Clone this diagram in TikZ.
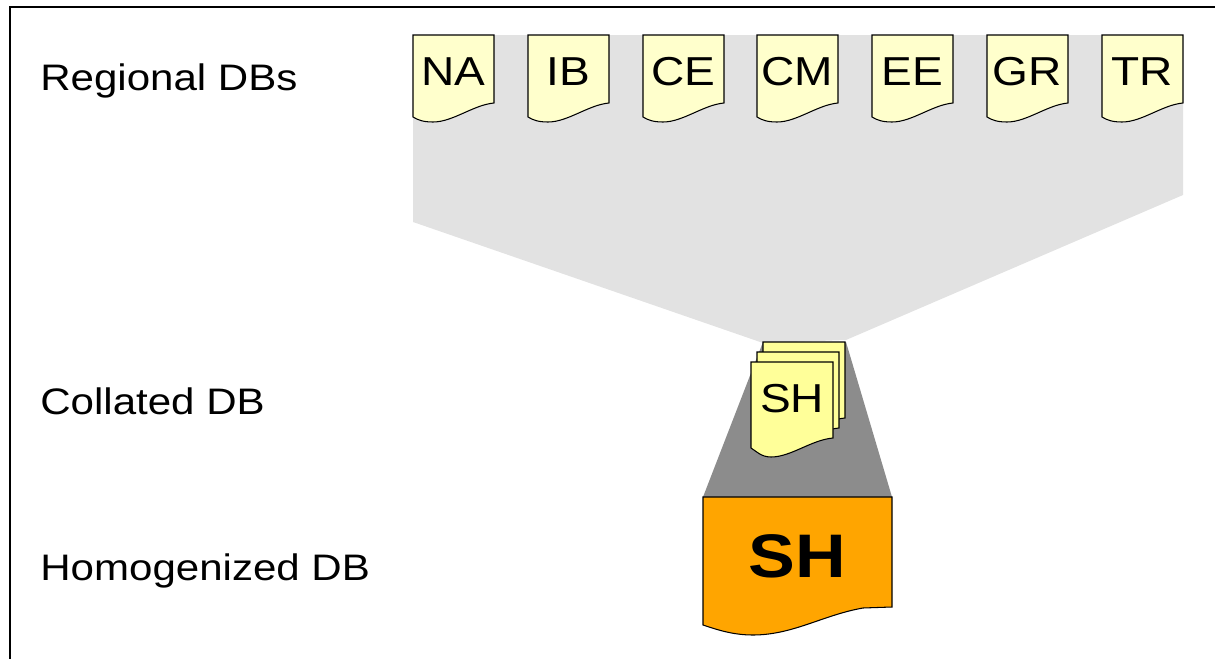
\documentclass[tikz,border=0pt]{standalone}
\usepackage{fontspec}
\usepackage{xcolor}
\usepackage{tikz}
\setmainfont[FakeStretch=1.14]{Liberation Sans}
\definecolor{regfill}{RGB}{255,255,204}
\definecolor{colfill}{RGB}{255,255,153}
\definecolor{homfill}{RGB}{255,165,0}
\definecolor{fanlight}{RGB}{226,226,226}
\definecolor{fandark}{RGB}{140,140,140}

\begin{document}
\begin{tikzpicture}[x=0.02cm,y=-0.02cm,
	every node/.style={inner sep=0pt,font=\fontsize{21pt}{25pt}\selectfont},
	regdoc/.style={fill=regfill,draw=black,line width=0.6pt},
	coldoc/.style={fill=colfill,draw=black,line width=0.6pt},
	homdoc/.style={fill=homfill,draw=black,line width=0.6pt},
	doclbl/.style={font=\fontsize{23pt}{27pt}\selectfont},
	rowlbl/.style={anchor=base west}]
					\useasboundingbox (0,0) rectangle (1215,659);
					\coordinate (d1) at (413,35);
					\coordinate (d2) at (528,35);
					\coordinate (d3) at (643,35);
					\coordinate (d4) at (757,35);
					\coordinate (d5) at (872,35);
					\coordinate (d6) at (987,35);
					\coordinate (d7) at (1102,35);
					\coordinate (c1) at (763,342);
					\coordinate (c2) at (757,352);
					\coordinate (c3) at (751,362);
					\coordinate (h1) at (703,497);

					\draw[line width=1.1pt] (10,659) -- (10,7) -- (1215,7);

					% funnels
					\fill[fanlight] (413,35) -- (1183,35) -- (1183,195) -- (846,340) -- (763,343) -- (413,222) -- cycle;
					\fill[fandark] (763,342) -- (846,342) -- (892,497) -- (703,497) -- cycle;

					% regional DBs
					\draw[regdoc,shift={(d1)}] (0,0) -- (81,0) -- (81,68) .. controls (60,70) and (40,87) .. (20,87) .. controls (10,87) and (5,85) .. (0,82) -- cycle;
					\draw[regdoc,shift={(d2)}] (0,0) -- (81,0) -- (81,68) .. controls (60,70) and (40,87) .. (20,87) .. controls (10,87) and (5,85) .. (0,82) -- cycle;
					\draw[regdoc,shift={(d3)}] (0,0) -- (81,0) -- (81,68) .. controls (60,70) and (40,87) .. (20,87) .. controls (10,87) and (5,85) .. (0,82) -- cycle;
					\draw[regdoc,shift={(d4)}] (0,0) -- (81,0) -- (81,68) .. controls (60,70) and (40,87) .. (20,87) .. controls (10,87) and (5,85) .. (0,82) -- cycle;
					\draw[regdoc,shift={(d5)}] (0,0) -- (81,0) -- (81,68) .. controls (60,70) and (40,87) .. (20,87) .. controls (10,87) and (5,85) .. (0,82) -- cycle;
					\draw[regdoc,shift={(d6)}] (0,0) -- (81,0) -- (81,68) .. controls (60,70) and (40,87) .. (20,87) .. controls (10,87) and (5,85) .. (0,82) -- cycle;
					\draw[regdoc,shift={(d7)}] (0,0) -- (81,0) -- (81,68) .. controls (60,70) and (40,87) .. (20,87) .. controls (10,87) and (5,85) .. (0,82) -- cycle;

					% collated stack
					\draw[coldoc,shift={(c1)}] (0,0) -- (82,0) -- (82,76) .. controls (60,78) and (40,95) .. (20,95) .. controls (10,95) and (5,89) .. (0,86) -- cycle;
					\draw[coldoc,shift={(c2)}] (0,0) -- (82,0) -- (82,76) .. controls (60,78) and (40,95) .. (20,95) .. controls (10,95) and (5,89) .. (0,86) -- cycle;
					\draw[coldoc,shift={(c3)}] (0,0) -- (82,0) -- (82,76) .. controls (60,78) and (40,95) .. (20,95) .. controls (10,95) and (5,89) .. (0,86) -- cycle;

					% homogenized
					\draw[homdoc,shift={(h1)}] (0,0) -- (189,0) -- (189,110) -- (160,111) .. controls (120,118) and (90,138) .. (50,138) .. controls (30,138) and (15,133) .. (0,128) -- cycle;

					\node[doclbl] (na) at (453.5,72) {NA};
					\node[doclbl] (ib) at (568.5,72) {IB};
					\node[doclbl] (ce) at (683.5,72) {CE};
					\node[doclbl] (cm) at (797.5,72) {CM};
					\node[doclbl] (ee) at (912.5,72) {EE};
					\node[doclbl] (gr) at (1027.5,72) {GR};
					\node[doclbl] (tr) at (1142.5,72) {TR};
					\node[doclbl] (sh) at (792,399) {SH};
					\node[font=\fontsize{35pt}{40pt}\selectfont\bfseries] (shh) at (797,556) {SH};

					\node[rowlbl] (regional) at (40,91) {Regional DBs};
					\node[rowlbl] (collated) at (40,414) {Collated DB};
					\node[rowlbl] (homog) at (40,580) {Homogenized DB};
				\end{tikzpicture}
\end{document}
